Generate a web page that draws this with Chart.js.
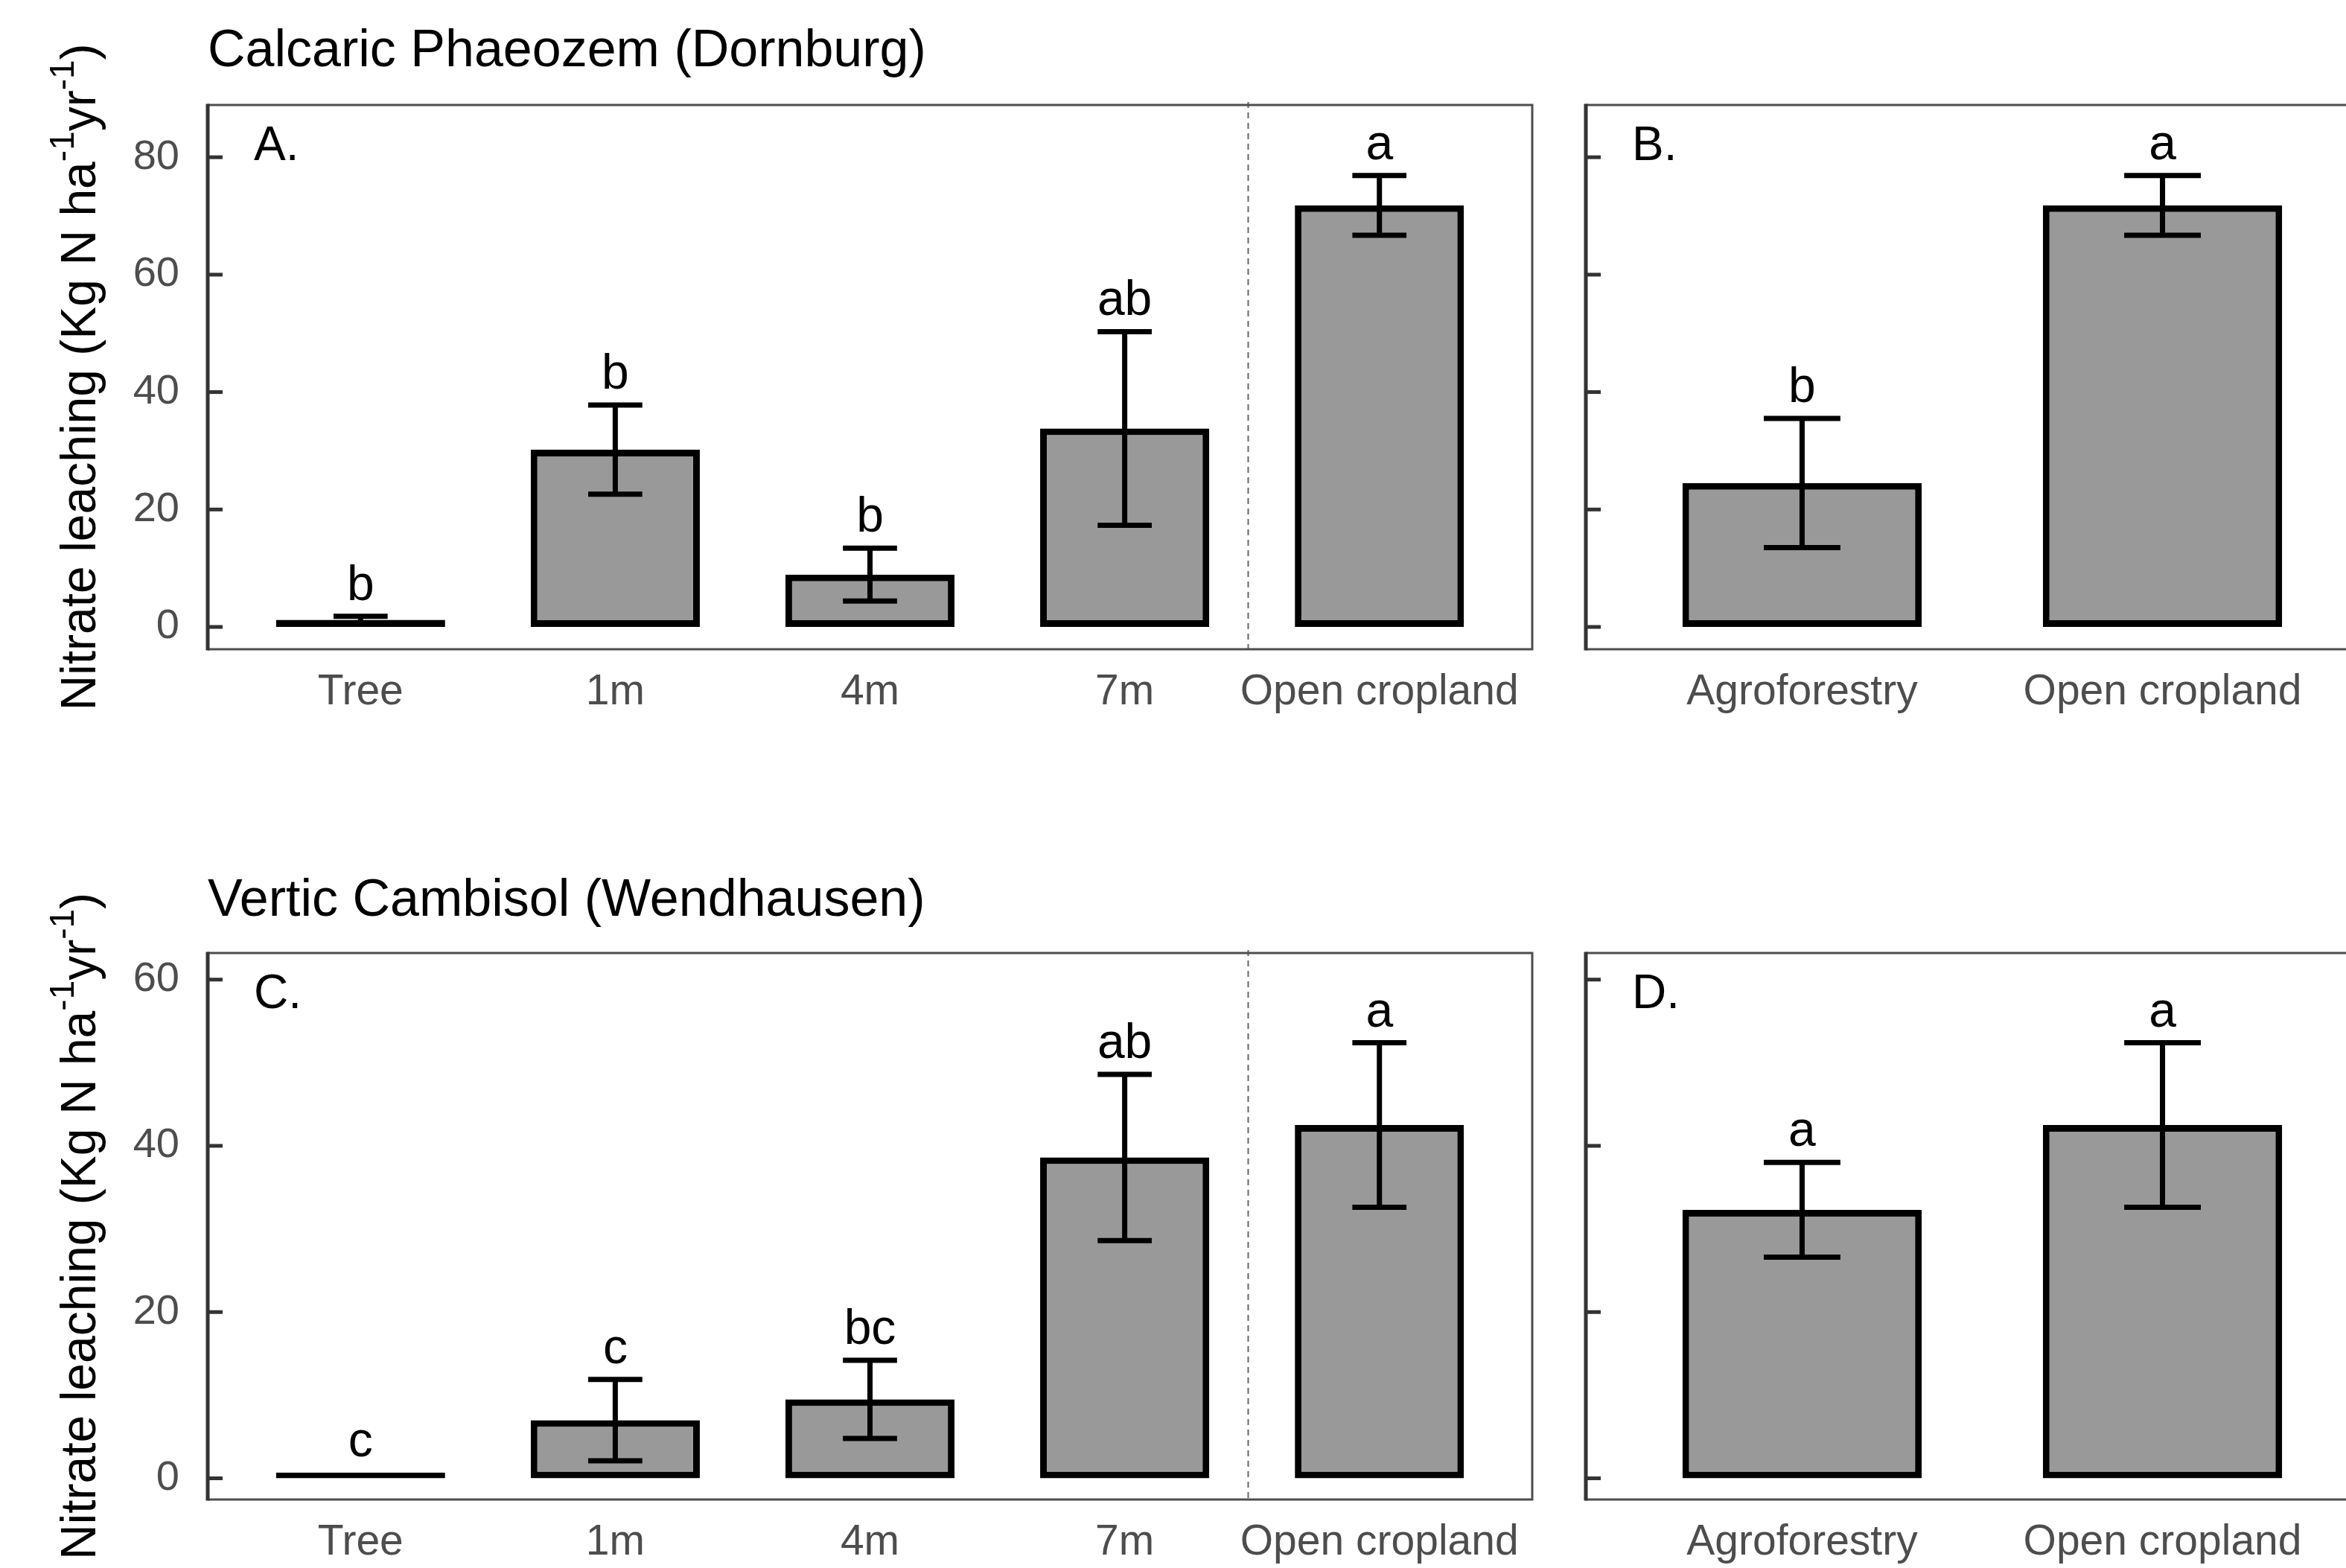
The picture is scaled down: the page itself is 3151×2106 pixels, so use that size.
<!DOCTYPE html>
<html>
<head>
<meta charset="utf-8">
<script src="https://cdn.jsdelivr.net/npm/chart.js@4.4.1/dist/chart.umd.min.js"></script>
<style>
  html, body { margin: 0; padding: 0; background: #fff; width: 3151px; height: 2106px; overflow: hidden; }
  .panel { position: absolute; }
</style>
</head>
<body>
<div class="panel" style="left:0;top:0;width:2100px;height:992px"><canvas id="chartA"></canvas></div>
<div class="panel" style="left:2100px;top:0;width:1120px;height:992px"><canvas id="chartB"></canvas></div>
<div class="panel" style="left:0;top:1139px;width:2100px;height:995px"><canvas id="chartC"></canvas></div>
<div class="panel" style="left:2100px;top:1139px;width:1120px;height:995px"><canvas id="chartD"></canvas></div>
<script>
// --- Data ---
const positionLabels = ["Tree", "1m", "4m", "7m", "Open cropland"];
const systemLabels = ["Agroforestry", "Open cropland"];

// Calcaric Phaeozem (Dornburg)
const dornburgMeans = [1.2, 30.2, 8.9, 33.8, 71.8];
const dornburgErrors = [0.6, 7.6, 4.5, 16.5, 5.1];
const dornburgLetters = ["b", "b", "b", "ab", "a"];
const dornburgSystemMeans = [24.5, 71.8];
const dornburgSystemErrors = [11.0, 5.1];
const dornburgSystemLetters = ["b", "a"];
const dornburgTicks = [0, 20, 40, 60, 80];

// Vertic Cambisol (Wendhausen)
const wendhausenMeans = [0.7, 7.0, 9.5, 38.6, 42.5];
const wendhausenErrors = [0, 4.9, 4.7, 10.0, 9.9];
const wendhausenLetters = ["c", "c", "bc", "ab", "a"];
const wendhausenSystemMeans = [32.3, 42.5];
const wendhausenSystemErrors = [5.7, 9.9];
const wendhausenSystemLetters = ["a", "a"];
const wendhausenTicks = [0, 20, 40, 60];

const FONT = '"Liberation Sans", Arial, Helvetica, sans-serif';
Chart.defaults.font.family = FONT;

// --- Extra drawing: frame, inward ticks, error bars, letters, tags ---
const panelDecor = {
    id: "panelDecor",
    afterDraw(chart, args, o) {
        const ctx = chart.ctx;
        const { left, right, top, bottom } = chart.chartArea;
        const xs = chart.scales.x;
        const ys = chart.scales.y;
        ctx.save();

        // dashed divider between positions and open cropland
        if (o.divider) {
            const dx = Math.round(xs.getPixelForValue(o.divider)) - 5.5;
            ctx.strokeStyle = "#666";
            ctx.lineWidth = 2;
            ctx.setLineDash([8, 6]);
            ctx.beginPath();
            ctx.moveTo(dx, top - 4);
            ctx.lineTo(dx, bottom);
            ctx.stroke();
            ctx.setLineDash([]);
        }

        // error bars + significance letters
        const meta = chart.getDatasetMeta(0);
        meta.data.forEach((bar, i) => {
            const m = o.means[i];
            const e = o.errors[i];
            const cx = bar.x;
            const capHalf = bar.width * 0.16;
            const yt = ys.getPixelForValue(m + e);
            const yb = ys.getPixelForValue(m - e);
            if (e > 0) {
                ctx.strokeStyle = "#000";
                ctx.lineWidth = 7;
                ctx.beginPath();
                ctx.moveTo(cx, yt);
                ctx.lineTo(cx, yb);
                ctx.moveTo(cx - capHalf, yt);
                ctx.lineTo(cx + capHalf, yt);
                ctx.moveTo(cx - capHalf, yb);
                ctx.lineTo(cx + capHalf, yb);
                ctx.stroke();
            }
            ctx.fillStyle = "#000";
            ctx.font = "66px " + FONT;
            ctx.textAlign = "center";
            ctx.textBaseline = "alphabetic";
            ctx.fillText(o.letters[i], cx, yt - 22);
        });

        // frame
        ctx.strokeStyle = "#4d4d4d";
        ctx.lineWidth = 3;
        ctx.beginPath();
        ctx.moveTo(left, top);
        ctx.lineTo(right, top);
        ctx.lineTo(right, bottom);
        ctx.lineTo(left, bottom);
        ctx.stroke();
        ctx.strokeStyle = "#333";
        ctx.lineWidth = 5;
        ctx.beginPath();
        ctx.moveTo(left, top - 1.5);
        ctx.lineTo(left, bottom + 1.5);
        ctx.stroke();

        // inward tick marks on the y axis
        ys.ticks.forEach((t) => {
            const py = ys.getPixelForValue(t.value);
            ctx.beginPath();
            ctx.moveTo(left, py);
            ctx.lineTo(left + 20, py);
            ctx.stroke();
        });

        // panel tag (A., B., ...)
        ctx.fillStyle = "#000";
        ctx.font = "64px " + FONT;
        ctx.textAlign = "left";
        ctx.textBaseline = "middle";
        ctx.fillText(o.tag, left + 62, top + 56);

        // y axis title with superscripts
        if (o.yTitle) {
            const big = "66px " + FONT;
            const sup = "46px " + FONT;
            const parts = [
                ["Nitrate leaching (Kg N ha", big, 0],
                ["-1", sup, -24],
                ["yr", big, 0],
                ["-1", sup, -24],
                [")", big, 0],
            ];
            let total = 0;
            parts.forEach((p) => {
                ctx.font = p[1];
                total += ctx.measureText(p[0]).width;
            });
            ctx.translate(110, (top + bottom) / 2);
            ctx.rotate(-Math.PI / 2);
            ctx.textAlign = "left";
            ctx.textBaseline = "middle";
            let px = -total / 2;
            parts.forEach((p) => {
                ctx.font = p[1];
                ctx.fillText(p[0], px, p[2]);
                px += ctx.measureText(p[0]).width;
            });
        }
        ctx.restore();
    },
};

// --- Panel builder ---
function makePanel(id, cfg) {
    const labels = cfg.labels;
    return new Chart(document.getElementById(id), {
        type: "bar",
        data: {
            datasets: [
                {
                    data: cfg.means.map((v, i) => ({ x: i + 1, y: v })),
                    backgroundColor: "#999999",
                    borderColor: "#000000",
                    borderWidth: 9,
                    borderSkipped: false,
                    barPercentage: 0.664,
                    categoryPercentage: 1,
                },
            ],
        },
        options: {
            responsive: true,
            maintainAspectRatio: false,
            animation: false,
            events: [],
            layout: { padding: { top: cfg.title ? 0 : 141, right: cfg.padRight, left: 0, bottom: 0 } },
            plugins: {
                legend: { display: false },
                tooltip: { enabled: false },
                title: {
                    display: !!cfg.title,
                    text: cfg.title || "",
                    align: "start",
                    fullSize: false,
                    color: "#000",
                    font: { size: 70, weight: "normal" },
                    padding: { top: cfg.titleTop, bottom: 141 - cfg.titleTop - 84 },
                },
                panelDecor: {
                    means: cfg.means,
                    errors: cfg.errors,
                    letters: cfg.letters,
                    tag: cfg.tag,
                    divider: cfg.divider,
                    yTitle: cfg.yTitle,
                },
            },
            scales: {
                x: {
                    type: "linear",
                    min: 0.4,
                    max: labels.length + 0.6,
                    offset: false,
                    bounds: "data",
                    grid: { display: false, drawTicks: false, offset: false },
                    border: { display: false },
                    afterBuildTicks: (s) => {
                        s.ticks = labels.map((_, i) => ({ value: i + 1 }));
                    },
                    afterFit: (s) => {
                        s.height = 120;
                    },
                    ticks: {
                        autoSkip: false,
                        maxRotation: 0,
                        padding: 24,
                        color: "#4d4d4d",
                        font: { size: 57 },
                        callback: (v) => labels[Math.round(v) - 1],
                    },
                },
                y: {
                    type: "linear",
                    min: cfg.yMin,
                    max: cfg.yMax,
                    bounds: "data",
                    grid: { display: false, drawTicks: false },
                    border: { display: false },
                    afterBuildTicks: (s) => {
                        s.ticks = cfg.yTicks.map((v) => ({ value: v }));
                    },
                    afterFit: (s) => {
                        s.width = cfg.axisWidth;
                    },
                    ticks: {
                        display: cfg.showYLabels,
                        padding: 38,
                        color: "#4d4d4d",
                        font: { size: 56 },
                        callback: (v) => String(v),
                    },
                },
            },
        },
        plugins: [panelDecor],
    });
}

makePanel("chartA", {
    labels: positionLabels, means: dornburgMeans, errors: dornburgErrors, letters: dornburgLetters,
    yMin: -3.8, yMax: 88.9, yTicks: dornburgTicks, title: "Calcaric Phaeozem (Dornburg)", titleTop: 28,
    tag: "A.", divider: 4.5, yTitle: true, showYLabels: true, axisWidth: 279, padRight: 42,
});
makePanel("chartB", {
    labels: systemLabels, means: dornburgSystemMeans, errors: dornburgSystemErrors, letters: dornburgSystemLetters,
    yMin: -3.8, yMax: 88.9, yTicks: dornburgTicks, title: null, titleTop: 0,
    tag: "B.", divider: null, yTitle: false, showYLabels: false, axisWidth: 30, padRight: 25,
});
makePanel("chartC", {
    labels: positionLabels, means: wendhausenMeans, errors: wendhausenErrors, letters: wendhausenLetters,
    yMin: -2.55, yMax: 63.2, yTicks: wendhausenTicks, title: "Vertic Cambisol (Wendhausen)", titleTop: 30,
    tag: "C.", divider: 4.5, yTitle: true, showYLabels: true, axisWidth: 279, padRight: 42,
});
makePanel("chartD", {
    labels: systemLabels, means: wendhausenSystemMeans, errors: wendhausenSystemErrors, letters: wendhausenSystemLetters,
    yMin: -2.55, yMax: 63.2, yTicks: wendhausenTicks, title: null, titleTop: 0,
    tag: "D.", divider: null, yTitle: false, showYLabels: false, axisWidth: 30, padRight: 25,
});
</script>
</body>
</html>
